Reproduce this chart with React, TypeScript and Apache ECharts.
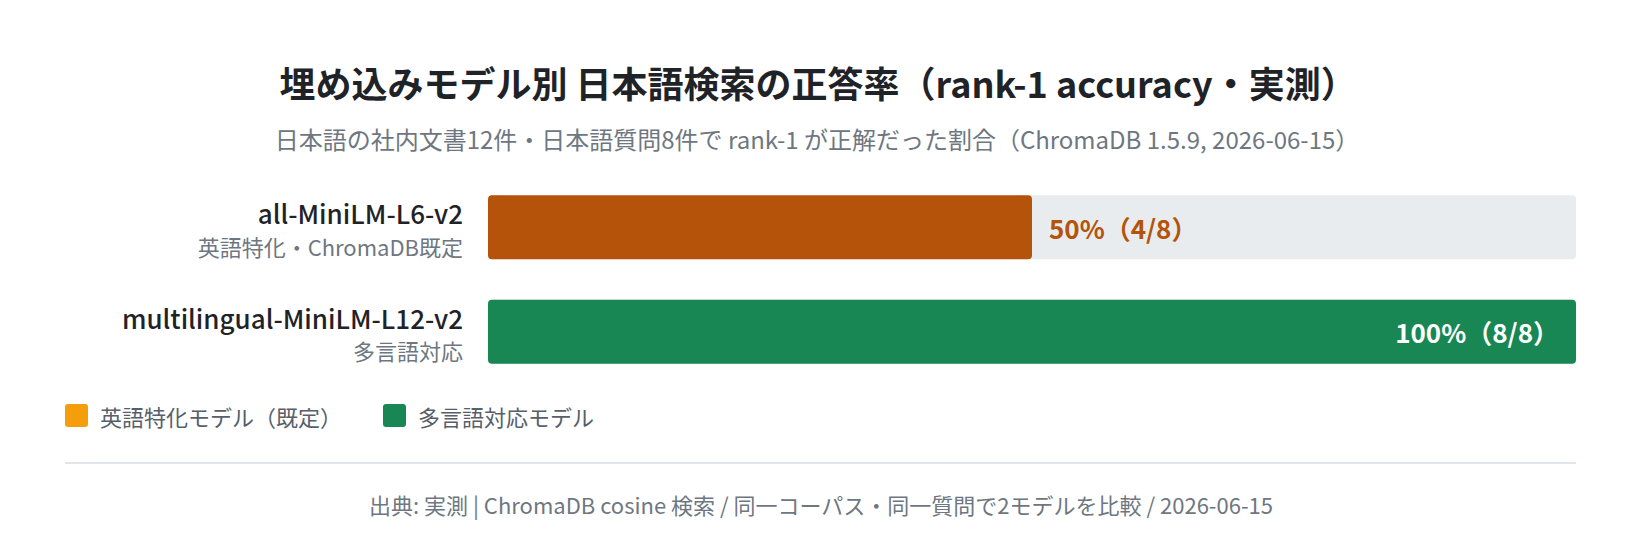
import React, { useEffect, useRef } from "react";
import * as echarts from "echarts";

// model names (y axis) and their short description
const models = ["all-MiniLM-L6-v2", "multilingual-MiniLM-L12-v2"];
const modelNotes = ["英語特化・ChromaDB既定", "多言語対応"];
const seriesNames = ["英語特化モデル（既定）", "多言語対応モデル"];

// rank-1 accuracy (%) and correct answers out of 8 questions
const accuracy = [50, 100];
const correct = [4, 8];
const totalQuestions = 8;

const FONT = '"Noto Sans CJK JP", "Noto Sans", sans-serif';

export default function App() {
    const chartRef = useRef<HTMLDivElement>(null);

    useEffect(() => {
        document.body.style.margin = "0";
        let chart: echarts.ECharts | undefined;

        if (chartRef.current !== null) {
            chart = echarts.init(chartRef.current, undefined, { renderer: "svg" });

            const labelText = (i: number) => `${accuracy[i]}%（${correct[i]}/${totalQuestions}）`;

            const option: echarts.EChartsOption = {
                animation: false,
                textStyle: { fontFamily: FONT },
                grid: {
                    left: 488,
                    right: 64,
                    top: 175,
                    height: 209,
                },
                legend: {
                    left: 60,
                    top: 399,
                    itemWidth: 23,
                    itemHeight: 23,
                    itemGap: 41,
                    icon: "path://M3,0H20A3,3,0,0,1,23,3V20A3,3,0,0,1,20,23H3A3,3,0,0,1,0,20V3A3,3,0,0,1,3,0Z",
                    textStyle: {
                        fontSize: 22,
                        color: "#57606a",
                        fontFamily: FONT,
                        padding: [0, 0, 0, 7],
                    },
                    data: [
                        { name: seriesNames[0], itemStyle: { color: "#f59e0b" } },
                        { name: seriesNames[1], itemStyle: { color: "#198754" } },
                    ],
                },
                xAxis: {
                    type: "value",
                    min: 0,
                    max: 100,
                    show: false,
                },
                yAxis: {
                    type: "category",
                    inverse: true,
                    data: models,
                    axisLine: { show: false },
                    axisTick: { show: false },
                    axisLabel: {
                        margin: 25,
                        formatter: (value: string, idx: number) =>
                            `{name|${value}}\n{note|${modelNotes[idx]}}`,
                        rich: {
                            name: {
                                fontSize: 26,
                                fontWeight: 500,
                                color: "#1f2328",
                                fontFamily: FONT,
                                lineHeight: 37,
                                align: "right",
                            },
                            note: {
                                fontSize: 22,
                                color: "#6e7781",
                                fontFamily: FONT,
                                lineHeight: 29,
                                align: "right",
                            },
                        },
                    },
                },
                series: [
                    {
                        name: seriesNames[0],
                        type: "bar",
                        barWidth: 64,
                        barGap: "-100%",
                        data: [accuracy[0], "-"],
                        showBackground: true,
                        backgroundStyle: { color: "#e9ecef", borderRadius: 4 },
                        itemStyle: { color: "#b45309", borderRadius: 4 },
                        label: {
                            show: true,
                            position: "right",
                            distance: 17,
                            formatter: () => labelText(0),
                            color: "#b45309",
                            fontSize: 26,
                            fontWeight: "bold",
                            fontFamily: FONT,
                        },
                    },
                    {
                        name: seriesNames[1],
                        type: "bar",
                        barWidth: 64,
                        barGap: "-100%",
                        data: ["-", accuracy[1]],
                        itemStyle: { color: "#198754", borderRadius: 4 },
                        label: {
                            show: true,
                            position: "insideRight",
                            distance: 17,
                            formatter: () => labelText(1),
                            color: "#ffffff",
                            fontSize: 26,
                            fontWeight: "bold",
                            fontFamily: FONT,
                        },
                    },
                ],
                graphic: [
                    {
                        type: "text",
                        x: 818,
                        y: 82,
                        style: {
                            text: "埋め込みモデル別 日本語検索の正答率（rank-1 accuracy・実測）",
                            fill: "#1f2328",
                            font: `bold 36px ${FONT}`,
                            textAlign: "center",
                            textVerticalAlign: "middle",
                        },
                    },
                    {
                        type: "text",
                        x: 817,
                        y: 138,
                        style: {
                            text: "日本語の社内文書12件・日本語質問8件で rank-1 が正解だった割合（ChromaDB 1.5.9, 2026-06-15）",
                            fill: "#6e7781",
                            font: `24px ${FONT}`,
                            textAlign: "center",
                            textVerticalAlign: "middle",
                        },
                    },
                    {
                        type: "line",
                        shape: { x1: 65, y1: 463, x2: 1576, y2: 463 },
                        style: { stroke: "#d8dee4", lineWidth: 1.5 },
                    },
                    {
                        type: "text",
                        x: 821,
                        y: 504,
                        style: {
                            text: "出典: 実測 | ChromaDB cosine 検索 / 同一コーパス・同一質問で2モデルを比較 / 2026-06-15",
                            fill: "#6e7781",
                            font: `22px ${FONT}`,
                            textAlign: "center",
                            textVerticalAlign: "middle",
                        },
                    },
                ],
            };

            chart.setOption(option);
        }

        return () => {
            chart?.dispose();
        };
    }, []);

    return <div ref={chartRef} style={{ width: "1640px", height: "560px" }} />;
}
